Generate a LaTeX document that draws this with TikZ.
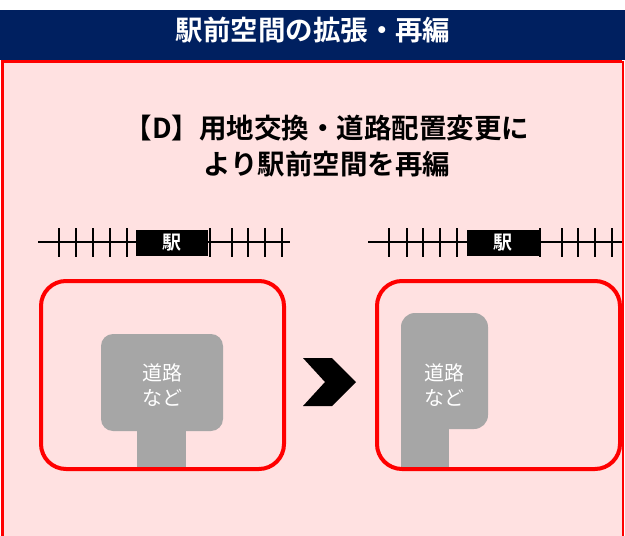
\documentclass[tikz,border=0pt]{standalone}
\usepackage{fontspec}
\setmainfont{Noto Sans CJK JP}
\newfontfamily\jpb{Noto Sans CJK JP Bold}
\definecolor{navy}{HTML}{002060}
\definecolor{pinkbg}{HTML}{FFE1E1}
\definecolor{roadgray}{HTML}{A6A6A6}
\definecolor{redline}{HTML}{FF0000}
\tikzset{
  redbox/.style={draw=redline, line width=4pt, rounded corners=25pt},
  road/.style={fill=roadgray},
  roadtxt/.style={text=white, font=\fontsize{20}{23}\selectfont, inner sep=0pt},
  rail/.style={line width=1.8pt, draw=black},
  stationbox/.style={fill=black, text=white, font=\jpb\fontsize{19}{22}\selectfont, inner sep=0pt, minimum width=72pt, minimum height=26pt},
  heading/.style={font=\jpb\fontsize{27.5}{30}\selectfont, inner sep=0pt},
  chevron/.style={fill=black}
}
\begin{document}
\begin{tikzpicture}[x=1pt,y=-1pt]
\useasboundingbox (0,0) rectangle (625,536);
\fill[white] (0,0) rectangle (625,536);
% header
\fill[navy] (0,10) rectangle (625,60);
\node[heading, text=white] (title) at (313,30) {駅前空間の拡張・再編};
% pink panel
\fill[pinkbg] (2,61) rectangle (623,540);
\draw[redline, line width=3pt] (2.5,545) -- (2.5,61.5) -- (622,61.5);
\draw[redline, line width=1.5pt] (622.8,61) -- (622.8,545);
% heading
\node[heading] (h1) at (327,128) {【D】用地交換・道路配置変更に};
\node[heading] (h2) at (327,164) {より駅前空間を再編};
% left tracks
\coordinate (la) at (38,242);
\coordinate (lb) at (290,242);
\draw[rail] (la) -- (lb);
\foreach \x in {59,76,93,110,127,210,232,248,265,282}
  \draw[rail] (\x,228) -- (\x,257);
\node[stationbox] (ls) at (172,243) {駅};
% right tracks
\coordinate (ra) at (368,242);
\coordinate (rb) at (622,242);
\draw[rail] (ra) -- (rb);
\foreach \x in {389,407,423,440,457,540,562,578,595,612}
  \draw[rail] (\x,228) -- (\x,257);
\node[stationbox] (rs) at (503,243) {駅};
% left scene
\fill[road] (137,425) rectangle (186,469);
\fill[road, rounded corners=12pt] (101,334) rectangle (223,431);
\node[roadtxt] (lt1) at (162,373) {道路};
\node[roadtxt] (lt2) at (162,398) {など};
\draw[redbox] (41,281) rectangle (284,469);
% right scene
\fill[road, rounded corners=14pt] (401,313) rectangle (488,429);
\fill[road] (401,400) rectangle (449,469);
\node[roadtxt] (rt1) at (444,373) {道路};
\node[roadtxt] (rt2) at (444,398) {など};
\draw[redbox] (377,281) rectangle (620,469);
% chevron
\fill[chevron] (303,358) -- (332,358) -- (356,382) -- (332,406) -- (303,406) -- (325,382) -- cycle;
\end{tikzpicture}
\end{document}
